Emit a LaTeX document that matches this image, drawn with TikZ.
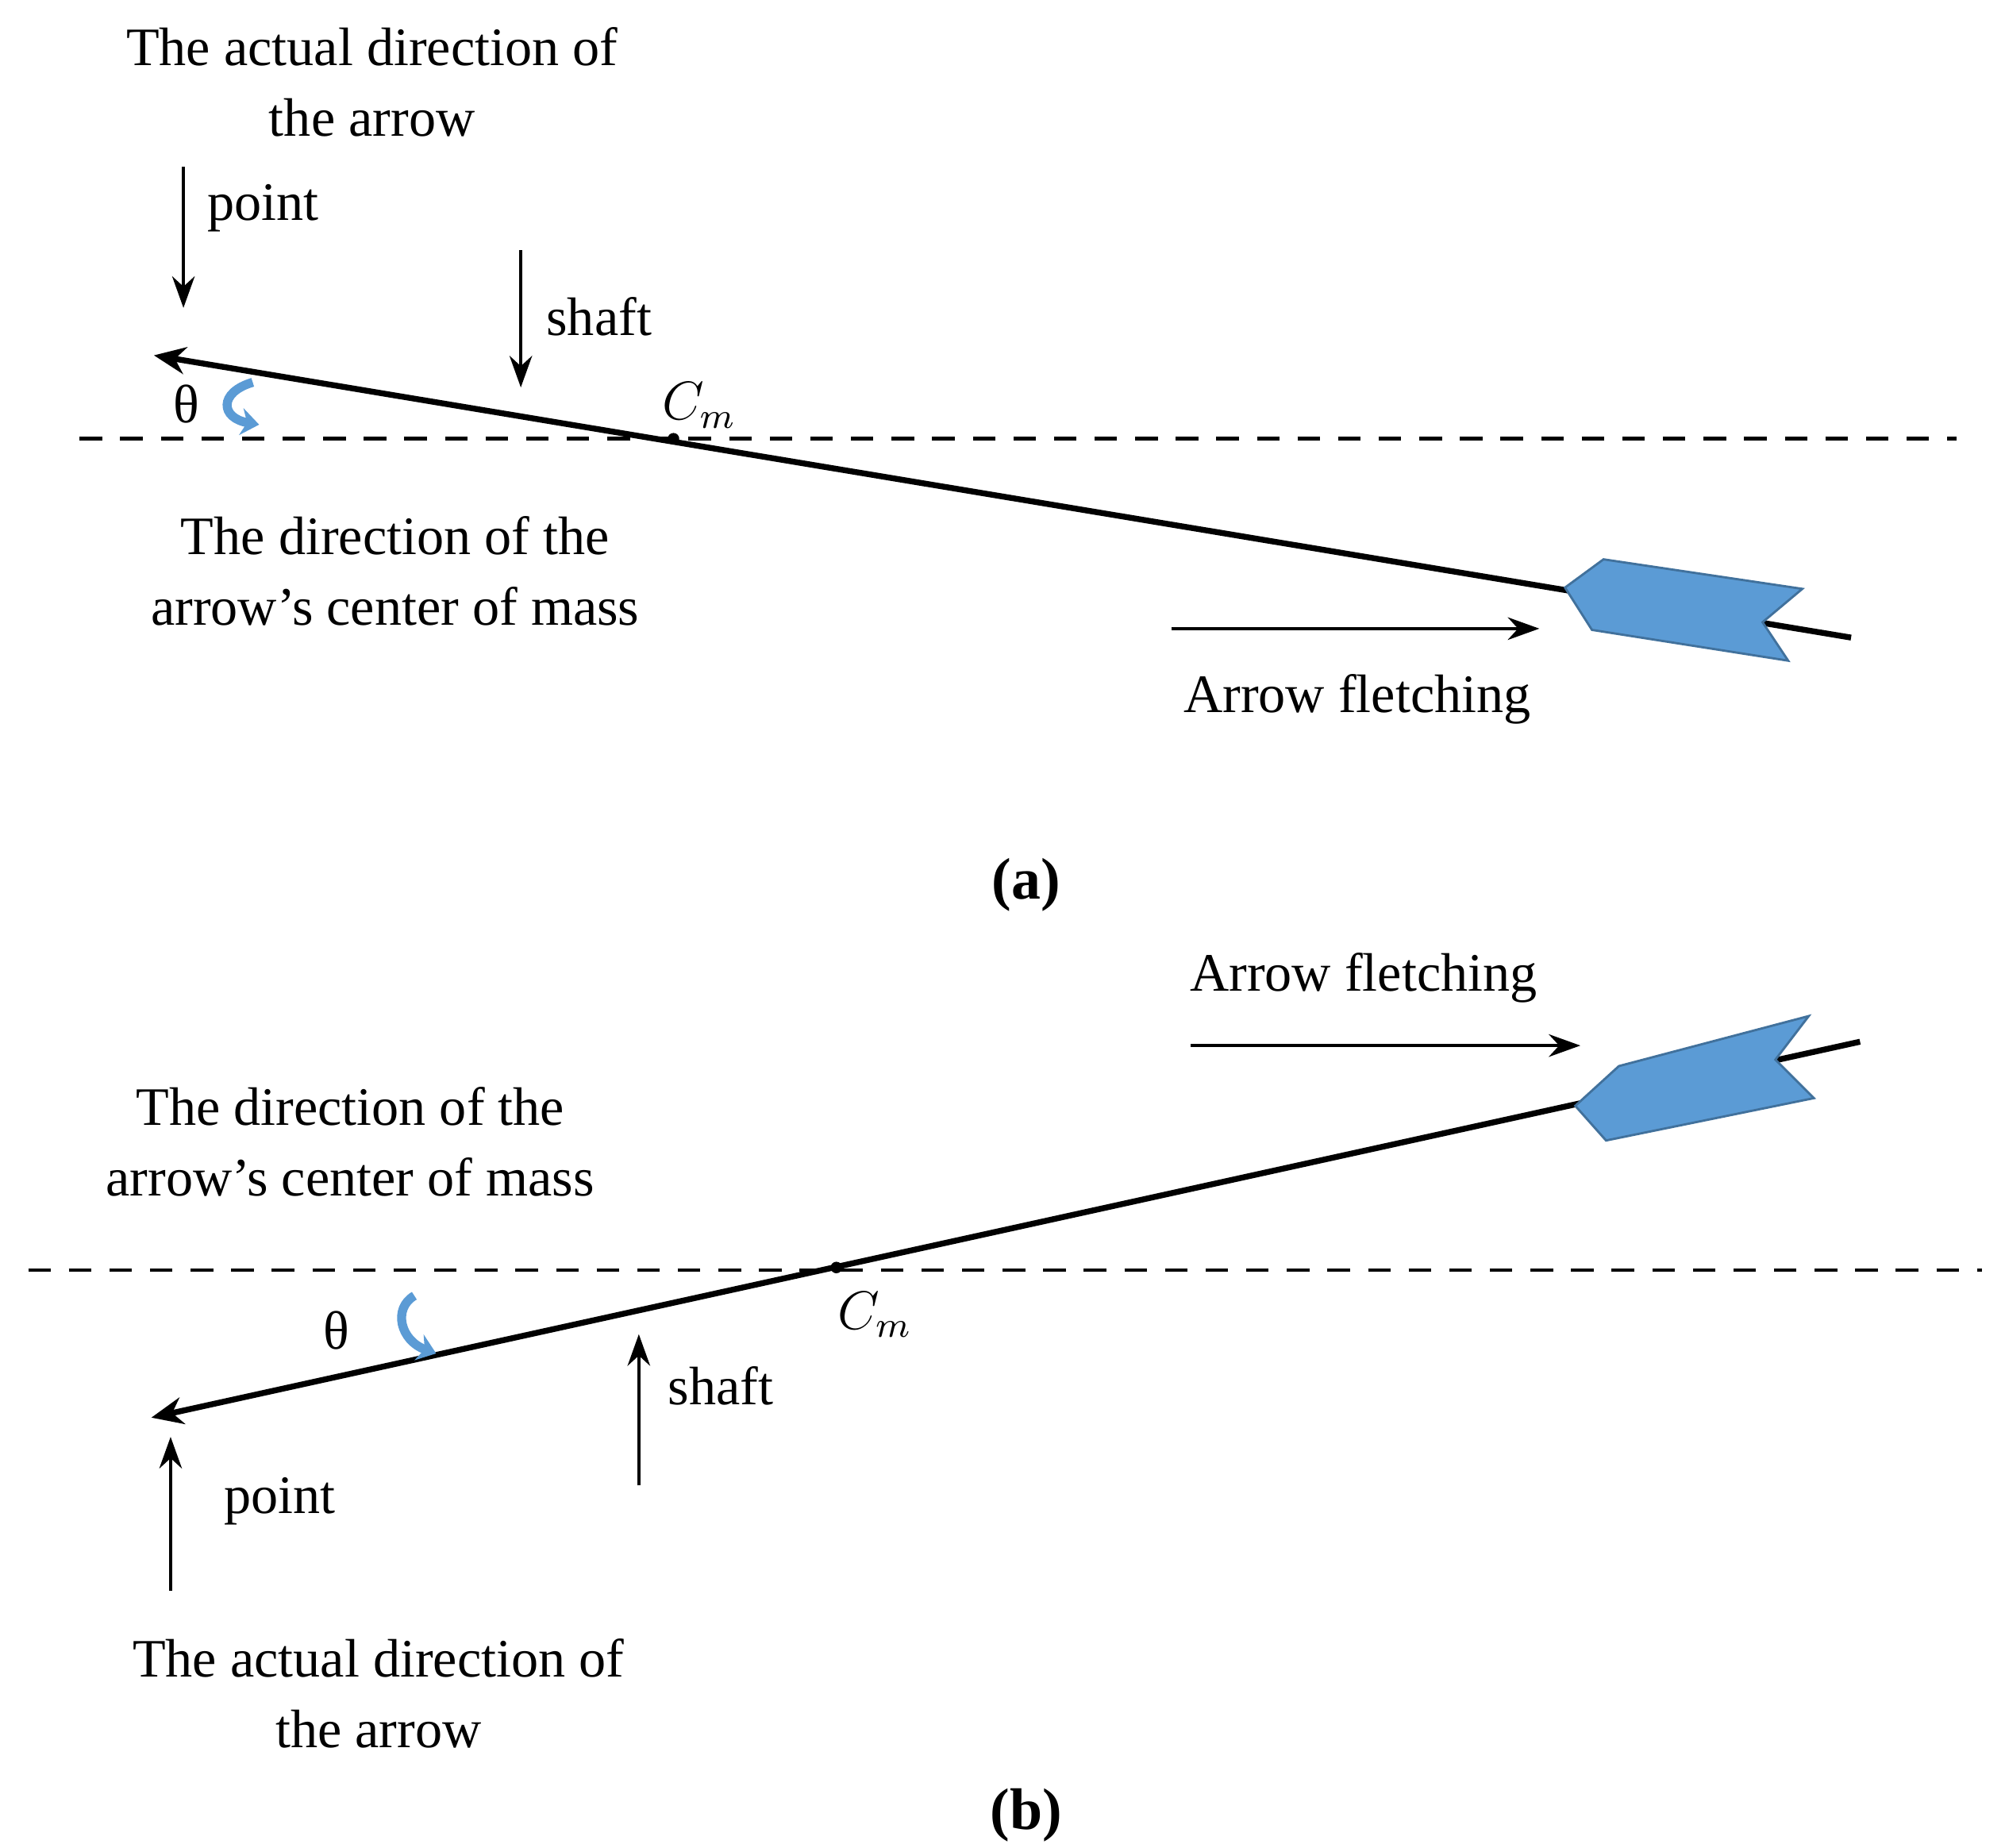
\documentclass[tikz,border=0pt]{standalone}
\usepackage{fontspec}
\setmainfont{Liberation Serif}
\usetikzlibrary{arrows.meta}
\definecolor{fletch}{RGB}{91,155,213}
\definecolor{fletchline}{RGB}{65,113,156}
\tikzset{
  lbl/.style={font=\fontsize{12}{15.6}\selectfont,align=center,inner sep=0pt},
  shaft/.style={line width=1.3pt,-{Stealth[length=7pt,width=6pt]}},
  pointer/.style={line width=0.7pt,-{Stealth[length=7pt,width=5pt]}},
  horizon/.style={dashed,line width=0.8pt,dash pattern=on 5pt off 4pt},
  feather/.style={fill=fletch,draw=fletchline,line width=0.5pt},
  turn/.style={color=fletch,line width=2pt,-{Stealth[length=4pt,width=6pt]}}
}
\begin{document}
\begin{tikzpicture}[x=0.01cm,y=-0.01cm]
            \useasboundingbox (0,0) rectangle (1563,1440);
            % (a)
            \draw[horizon] (62,342)--(1525,342);
            \coordinate (ta) at (120,277);
            \coordinate (ea) at (1443,497);
            \draw[shaft] (ea)--(ta);
            \fill (525,342) circle (4.5);
            \node[lbl] (cma lbl) at (545,316) {$C_m$};
            \draw[feather] (1220,458)--(1250,436)--(1405,459)--(1374,485)--(1394,515)--(1241,491)--cycle;
            \node[lbl] (acta) at (290,64) {The actual direction of\\the arrow};
            \node[lbl] (pta) at (205,162) {point};
            \node[lbl] (sha) at (467,247) {shaft};
            \node[lbl] (cma) at (308,445) {The direction of the\\arrow's center of mass};
            \node[lbl] (fla) at (1058,545) {Arrow fletching};
            \node[lbl] (tha) at (145,315) {θ};
            \node[lbl,font=\fontsize{13}{15}\selectfont\bfseries] (cap a) at (800,690) {(a)};
            \draw[pointer] (143,130)--(143,240);
            \draw[pointer] (406,195)--(406,302);
            \draw[pointer] (913,490)--(1200,490);
            \draw[turn] (197,298) .. controls (170,306) and (172,326) .. (202,331);
            % (b)
            \draw[horizon] (22,990)--(1545,990);
            \coordinate (tb) at (118,1105);
            \coordinate (eb) at (1450,812);
            \draw[shaft] (eb)--(tb);
            \fill (652,988) circle (4.5);
            \node[lbl] (cmb lbl) at (682,1025) {$C_m$};
            \draw[feather] (1228,862)--(1262,831)--(1410,792)--(1384,826)--(1414,856)--(1252,889)--cycle;
            \node[lbl] (actb) at (295,1320) {The actual direction of\\the arrow};
            \node[lbl] (ptb) at (218,1170) {point};
            \node[lbl] (shb) at (562,1080) {shaft};
            \node[lbl] (cmb) at (273,890) {The direction of the\\arrow's center of mass};
            \node[lbl] (flb) at (1063,762) {Arrow fletching};
            \node[lbl] (thb) at (262,1037) {θ};
            \node[lbl,font=\fontsize{13}{15}\selectfont\bfseries] (cap b) at (800,1415) {(b)};
            \draw[pointer] (133,1240)--(133,1120);
            \draw[pointer] (498,1158)--(498,1040);
            \draw[pointer] (928,815)--(1232,815);
            \draw[turn] (323,1010) .. controls (306,1020) and (312,1045) .. (340,1055);
        \end{tikzpicture}
\end{document}
